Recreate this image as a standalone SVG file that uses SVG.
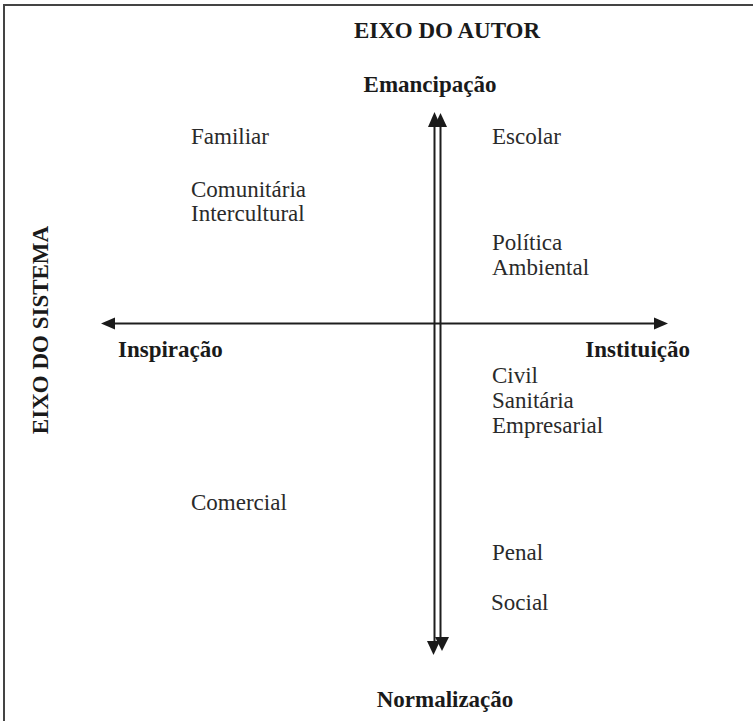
<svg xmlns="http://www.w3.org/2000/svg" width="753" height="721" viewBox="0 0 753 721">
<style>
.t{font-family:"Liberation Serif","Times New Roman",serif;font-size:23px;fill:#2a2a2a}
.b{font-family:"Liberation Serif","Times New Roman",serif;font-size:23px;font-weight:bold;fill:#1a1a1a}
.ax{stroke:#1e1e1e;stroke-width:2;fill:none}
.hd{fill:#1a1a1a}
</style>
<rect width="753" height="721" fill="#fff"/>
<path d="M4,721 V5 H753" fill="none" stroke="#444" stroke-width="2"/>
<g id="connectors">
<line class="ax" x1="114" y1="323.5" x2="655" y2="323.5"/>
<polygon class="hd" points="101,323.5 115,317.5 115,329.5"/>
<polygon class="hd" points="668,323.5 654,317.5 654,329.5"/>
<line class="ax" x1="434.5" y1="124" x2="434.5" y2="643"/>
<line class="ax" x1="440.5" y1="124" x2="440.5" y2="640"/>
<polygon class="hd" points="434.5,112 428,127 441,127"/>
<polygon class="hd" points="440.5,113 434,127 447,127"/>
<polygon class="hd" points="433.5,655 427,641 440,641"/>
<polygon class="hd" points="442,651 435,637 449,637"/>
</g>
<g id="title-autor"><text class="b" x="447" y="38" text-anchor="middle">EIXO DO AUTOR</text></g>
<g id="title-sistema"><text class="b" transform="translate(48,330) rotate(-90)" text-anchor="middle">EIXO DO SISTEMA</text></g>
<g id="emancipacao"><text class="b" x="430" y="92" text-anchor="middle">Emancipação</text></g>
<g id="normalizacao"><text class="b" x="445" y="707" text-anchor="middle">Normalização</text></g>
<g id="inspiracao"><text class="b" x="118" y="357">Inspiração</text></g>
<g id="instituicao"><text class="b" x="690" y="357" text-anchor="end">Instituição</text></g>
<g id="familiar"><text class="t" x="191" y="144">Familiar</text></g>
<g id="comunitaria"><text class="t" x="191" y="197">Comunitária</text><text class="t" x="191" y="221">Intercultural</text></g>
<g id="escolar"><text class="t" x="492" y="144">Escolar</text></g>
<g id="politica"><text class="t" x="492" y="250">Política</text><text class="t" x="492" y="275">Ambiental</text></g>
<g id="civil"><text class="t" x="492" y="383">Civil</text><text class="t" x="492" y="408">Sanitária</text><text class="t" x="492" y="433">Empresarial</text></g>
<g id="comercial"><text class="t" x="191" y="510">Comercial</text></g>
<g id="penal"><text class="t" x="492" y="560">Penal</text></g>
<g id="social"><text class="t" x="491" y="610">Social</text></g>
</svg>
